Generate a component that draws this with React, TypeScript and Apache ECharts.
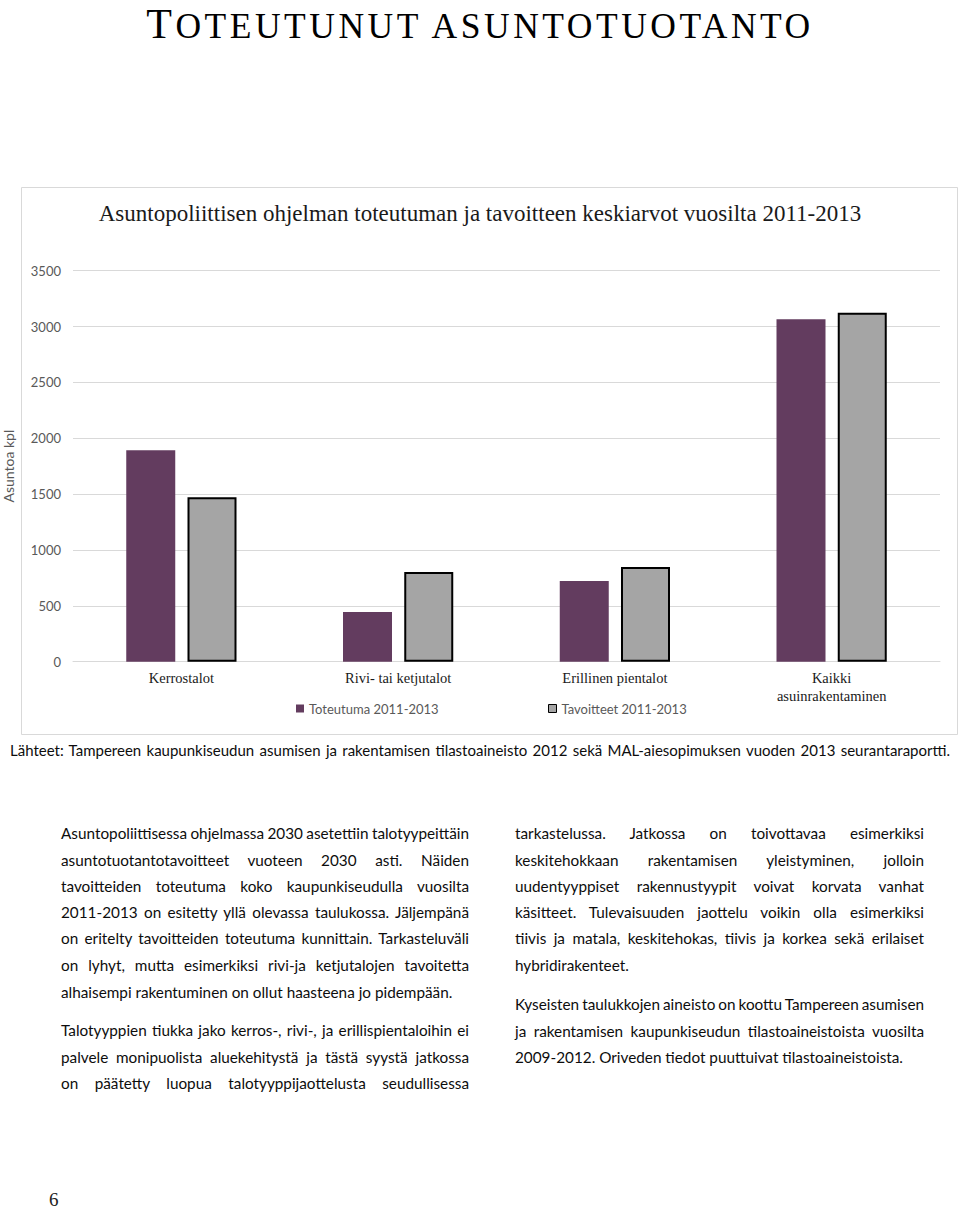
import React, { useEffect, useRef } from "react";
import * as echarts from "echarts";

const categories = ["Kerrostalot", "Rivi- tai ketjutalot", "Erillinen pientalot", "Kaikki\nasuinrakentaminen"];
const toteutuma = [1893, 445, 722, 3065];
const tavoitteet = [1472, 803, 848, 3124];
const seriesNames = ["Toteutuma 2011-2013", "Tavoitteet 2011-2013"];
const yMin = 0;
const yMax = 3500;
const yStep = 500;

const pageTitleFirst = "T";
const pageTitleRest = "oteutunut asuntotuotanto";
const chartTitle = "Asuntopoliittisen ohjelman toteutuman ja tavoitteen keskiarvot vuosilta 2011-2013";
const yName = "Asuntoa kpl";
const sourceText =
  "Lähteet: Tampereen kaupunkiseudun asumisen ja rakentamisen tilastoaineisto 2012 sekä MAL-aiesopimuksen vuoden 2013 seurantaraportti.";

type Line = { t: string; y: number; j: boolean };
const leftLines: Line[] = [
  { t: "Asuntopoliittisessa ohjelmassa 2030 asetettiin talotyypeittäin", y: 833, j: true },
  { t: "asuntotuotantotavoitteet vuoteen 2030 asti. Näiden", y: 860, j: true },
  { t: "tavoitteiden toteutuma koko kaupunkiseudulla vuosilta", y: 886, j: true },
  { t: "2011-2013 on esitetty yllä olevassa taulukossa. Jäljempänä", y: 912, j: true },
  { t: "on eritelty tavoitteiden toteutuma kunnittain. Tarkasteluväli", y: 938, j: true },
  { t: "on lyhyt, mutta esimerkiksi rivi-ja ketjutalojen tavoitetta", y: 965, j: true },
  { t: "alhaisempi rakentuminen on ollut haasteena jo pidempään.", y: 992, j: false },
  { t: "Talotyyppien tiukka jako kerros-, rivi-, ja erillispientaloihin ei", y: 1030, j: true },
  { t: "palvele monipuolista aluekehitystä ja tästä syystä jatkossa", y: 1057, j: true },
  { t: "on päätetty luopua talotyyppijaottelusta seudullisessa", y: 1083, j: true },
];
const rightLines: Line[] = [
  { t: "tarkastelussa. Jatkossa on toivottavaa esimerkiksi", y: 833, j: true },
  { t: "keskitehokkaan rakentamisen yleistyminen, jolloin", y: 860, j: true },
  { t: "uudentyyppiset rakennustyypit voivat korvata vanhat", y: 886, j: true },
  { t: "käsitteet. Tulevaisuuden jaottelu voikin olla esimerkiksi", y: 912, j: true },
  { t: "tiivis ja matala, keskitehokas, tiivis ja korkea sekä erilaiset", y: 938, j: true },
  { t: "hybridirakenteet.", y: 965, j: false },
  { t: "Kyseisten taulukkojen aineisto on koottu Tampereen asumisen", y: 1004, j: true },
  { t: "ja rakentamisen kaupunkiseudun tilastoaineistoista vuosilta", y: 1031, j: true },
  { t: "2009-2012. Oriveden tiedot puuttuivat tilastoaineistoista.", y: 1057, j: false },
];

const SANS = "Lato, 'Open Sans', sans-serif";
const SERIF = "'Liberation Serif', 'DejaVu Serif', serif";

function TextLines({ lines, left, width }: { lines: Line[]; left: number; width: number }) {
  return (
    <>
      {lines.map((l, i) => (
        <div
          key={i}
          style={{
            position: "absolute",
            left,
            top: l.y - 13,
            width,
            height: 26,
            lineHeight: "26px",
            fontFamily: SANS,
            fontSize: 15.3,
            color: "#0d0d0d",
            whiteSpace: "nowrap",
            wordSpacing: l.j ? "-1.5px" : "0px",
            textAlign: l.j ? "justify" : "left",
            textAlignLast: l.j ? "justify" : "left",
          } as React.CSSProperties}
        >
          {l.t}
        </div>
      ))}
    </>
  );
}

export default function App() {
  const ref = useRef<HTMLDivElement>(null);
  useEffect(() => {
    if (!ref.current) return;
    const chart = echarts.init(ref.current, null, { renderer: "svg" });
    chart.setOption({
      animation: false,
      title: {
        text: chartTitle,
        left: "center",
        top: 22,
        padding: 0,
        textStyle: { fontFamily: SERIF, fontSize: 23, fontWeight: "normal", color: "#1a1a1a" },
      },
      graphic: [
        {
          type: "rect",
          silent: true,
          shape: { x: 21.5, y: 7.5, width: 936, height: 547 },
          style: { fill: "none", stroke: "#d9d9d9", lineWidth: 1 },
        },
      ],
      legend: [
        {
          data: [seriesNames[0]],
          left: 296,
          top: 522,
          padding: 0,
          icon: "rect",
          itemWidth: 8,
          itemHeight: 8,
          textStyle: { fontFamily: SANS, fontSize: 13, color: "#595959" },
        },
        {
          data: [seriesNames[1]],
          left: 548,
          top: 522,
          padding: 0,
          icon: "rect",
          itemWidth: 8,
          itemHeight: 8,
          itemStyle: { borderWidth: 1, borderColor: "#000" },
          textStyle: { fontFamily: SANS, fontSize: 13, color: "#595959" },
        },
      ],
      grid: { left: 73, right: 20, top: 90.7, bottom: 88.3, containLabel: false, outerBoundsMode: "none" },
      xAxis: {
        type: "category",
        data: categories,
        axisLine: { show: true, lineStyle: { color: "#d9d9d9", width: 1 } },
        axisTick: { show: false },
        axisLabel: {
          interval: 0,
          margin: 7,
          fontFamily: SERIF,
          fontSize: 14.5,
          lineHeight: 18,
          color: "#1a1a1a",
        },
      },
      yAxis: {
        type: "value",
        min: yMin,
        max: yMax,
        interval: yStep,
        name: yName,
        nameLocation: "middle",
        nameGap: 58,
        nameTextStyle: { fontFamily: SANS, fontSize: 14, color: "#595959" },
        axisLine: { show: false },
        axisTick: { show: false },
        axisLabel: {
          margin: 12,
          fontFamily: SANS,
          fontSize: 13,
          color: "#595959",
          formatter: (v: number) => String(v),
        },
        splitLine: { lineStyle: { color: "#d9d9d9", width: 1 } },
      },
      series: [
        {
          name: seriesNames[0],
          type: "bar",
          data: toteutuma,
          barWidth: 49,
          barGap: "25%",
          itemStyle: { color: "#633c5f" },
        },
        {
          name: seriesNames[1],
          type: "bar",
          data: tavoitteet,
          barWidth: 49,
          barGap: "25%",
          itemStyle: { color: "#a5a5a5", borderColor: "#000", borderWidth: 2 },
        },
      ],
    });
    return () => chart.dispose();
  }, []);

  return (
    <div style={{ position: "absolute", left: 0, top: 0, width: 960, height: 1210, background: "#fff", overflow: "hidden" }}>
      <div
        style={{
          position: "absolute",
          left: 0,
          top: 0,
          width: 960,
          textAlign: "center",
          fontFamily: SERIF,
          lineHeight: "normal",
          color: "#000",
          whiteSpace: "nowrap",
          letterSpacing: 3.5,
        }}
      >
        <span style={{ fontSize: 42 }}>{pageTitleFirst}</span>
        <span style={{ fontSize: 35.5 }}>{pageTitleRest.toUpperCase()}</span>
      </div>
      <div ref={ref} style={{ position: "absolute", left: 0, top: 180, width: 960, height: 570 }} />
      <div
        style={{
          position: "absolute",
          left: 10,
          top: 739,
          width: 940,
          height: 22,
          lineHeight: "22px",
          fontFamily: SANS,
          fontSize: 15,
          color: "#0d0d0d",
          whiteSpace: "nowrap",
          wordSpacing: "-1px",
          textAlign: "justify",
          textAlignLast: "justify",
        } as React.CSSProperties}
      >
        {sourceText}
      </div>
      <TextLines lines={leftLines} left={61} width={408} />
      <TextLines lines={rightLines} left={515} width={409} />
      <div
        style={{
          position: "absolute",
          left: 49,
          top: 1190,
          height: 20,
          fontFamily: SERIF,
          fontSize: 19,
          lineHeight: "20px",
          color: "#222",
        }}
      >
        6
      </div>
    </div>
  );
}
